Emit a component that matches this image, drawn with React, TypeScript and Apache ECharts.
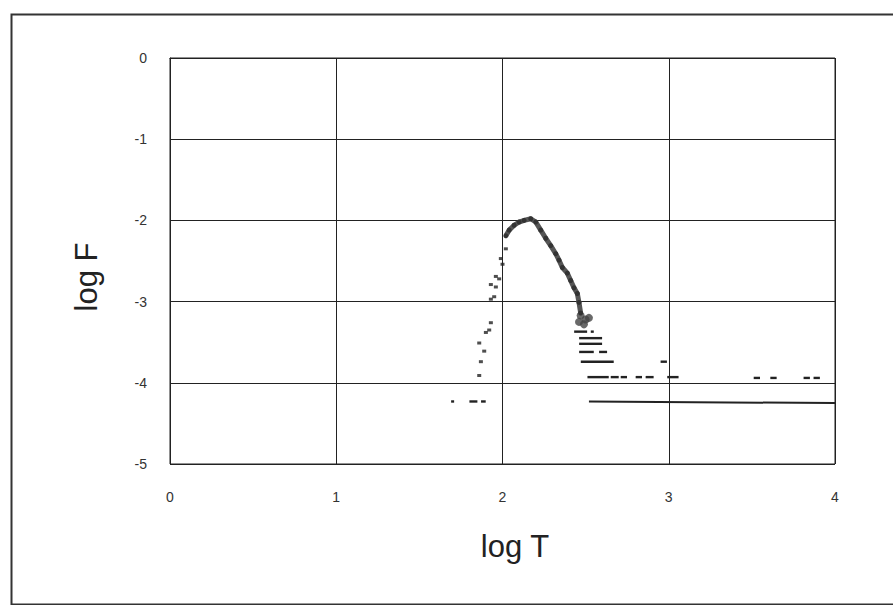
import React, { useEffect, useRef } from "react";
import * as echarts from "echarts";

// Peak of the distribution (thick curve): [logT, logF]
const peakCurve: [number, number][] = [
  [2.02, -2.19], [2.04, -2.12], [2.07, -2.06], [2.10, -2.02], [2.13, -2.0],
  [2.17, -1.98], [2.20, -2.02], [2.23, -2.12], [2.26, -2.22], [2.29, -2.31],
  [2.32, -2.41], [2.34, -2.49], [2.36, -2.58], [2.39, -2.65], [2.41, -2.74],
  [2.43, -2.83], [2.45, -2.90], [2.46, -3.01], [2.47, -3.14],
];

// Dark blob at the lower end of the falling branch
const blobPoints: [number, number][] = [
  [2.47, -3.17], [2.50, -3.22], [2.46, -3.25], [2.52, -3.20], [2.49, -3.28],
];

// Rising branch dots: [logT, logF]
const leftBranch: [number, number][] = [
  [2.02, -2.35], [1.99, -2.47], [2.0, -2.54], [1.96, -2.69], [1.98, -2.72],
  [1.93, -2.79], [1.96, -2.82], [1.95, -2.94], [1.93, -2.97], [1.93, -3.26],
  [1.92, -3.35], [1.90, -3.38], [1.86, -3.51], [1.89, -3.61], [1.87, -3.74],
  [1.86, -3.91],
];

// Horizontal dashes: [logT start, logT end, logF]
const dashes: [number, number, number][] = [
  [1.70, 1.70, -4.23], [1.81, 1.84, -4.23], [1.88, 1.89, -4.23],
  [2.44, 2.50, -3.37], [2.54, 2.54, -3.37],
  [2.47, 2.59, -3.45],
  [2.47, 2.59, -3.52],
  [2.47, 2.54, -3.62], [2.59, 2.62, -3.62],
  [2.48, 2.66, -3.74], [2.96, 2.98, -3.74],
  [2.52, 2.63, -3.93], [2.66, 2.69, -3.93], [2.72, 2.74, -3.93],
  [2.81, 2.83, -3.93], [2.87, 2.90, -3.93], [3.0, 3.05, -3.93],
  [3.52, 3.54, -3.94], [3.62, 3.64, -3.94], [3.82, 3.84, -3.94], [3.88, 3.90, -3.94],
];

// Long flat tail at the bottom
const tailLine: [number, number][] = [
  [2.52, -4.23], [4.0, -4.25],
];

const xTicks = [0, 1, 2, 3, 4];
const yTicks = [-5, -4, -3, -2, -1, 0];

export default function App() {
  const ref = useRef<HTMLDivElement>(null);
  useEffect(() => {
    if (!ref.current) return;
    const chart = echarts.init(ref.current, null, { renderer: "svg" });
    const font = "'Liberation Sans', Arial, sans-serif";
    chart.setOption({
      animation: false,
      backgroundColor: "#ffffff",
      grid: {
        left: 170,
        right: 58,
        top: 58,
        bottom: 141,
        show: true,
        borderColor: "#222",
        borderWidth: 1,
      },
      xAxis: {
        type: "value",
        min: xTicks[0],
        max: xTicks[xTicks.length - 1],
        interval: 1,
        axisLine: { show: true, lineStyle: { color: "#222", width: 1 } },
        axisTick: { show: false },
        splitLine: { show: true, lineStyle: { color: "#222", width: 1 } },
        axisLabel: {
          margin: 26,
          fontSize: 14,
          color: "#333",
          fontFamily: font,
        },
      },
      yAxis: {
        type: "value",
        min: yTicks[0],
        max: yTicks[yTicks.length - 1],
        interval: 1,
        axisLine: { show: true, lineStyle: { color: "#222", width: 1 } },
        axisTick: { show: false },
        splitLine: { show: true, lineStyle: { color: "#222", width: 1 } },
        axisLabel: {
          margin: 23,
          fontSize: 14,
          color: "#333",
          fontFamily: font,
        },
      },
      graphic: [
        {
          type: "rect",
          left: 9,
          top: 12,
          shape: { width: 900, height: 590 },
          style: { fill: "none", stroke: "#333", lineWidth: 2 },
          silent: true,
        },
        {
          type: "text",
          x: 515,
          y: 546,
          style: {
            text: "log T",
            font: `31px ${font}`,
            fill: "#222",
            textAlign: "center",
            textVerticalAlign: "middle",
          },
        },
        {
          type: "text",
          x: 86,
          y: 277,
          rotation: Math.PI / 2,
          style: {
            text: "log F",
            font: `31px ${font}`,
            fill: "#222",
            textAlign: "center",
            textVerticalAlign: "middle",
          },
        },
      ],
      series: [
        {
          type: "line",
          data: tailLine,
          symbol: "none",
          lineStyle: { color: "#222", width: 2 },
          silent: true,
        },
        {
          type: "custom",
          data: dashes,
          encode: { x: [0, 1], y: 2 },
          renderItem: (params: any, api: any) => {
            const p1 = api.coord([api.value(0), api.value(2)]);
            const p2 = api.coord([api.value(1), api.value(2)]);
            return {
              type: "rect",
              shape: {
                x: p1[0] - 1.5,
                y: p1[1] - 1.2,
                width: Math.max(p2[0] - p1[0] + 3, 3),
                height: 2.4,
              },
              style: { fill: "#222" },
            };
          },
          silent: true,
        },
        {
          type: "scatter",
          data: leftBranch,
          symbol: "rect",
          symbolSize: [4, 3],
          itemStyle: { color: "#222" },
          silent: true,
        },
        {
          type: "line",
          data: peakCurve,
          symbol: "circle",
          symbolSize: 5,
          showSymbol: true,
          itemStyle: { color: "#333" },
          lineStyle: { color: "#555", width: 5 },
          silent: true,
        },
        {
          type: "scatter",
          data: blobPoints,
          symbol: "circle",
          symbolSize: 8,
          itemStyle: { color: "#444" },
          silent: true,
        },
      ],
    });
    return () => chart.dispose();
  }, []);
  return (
    <div
      ref={ref}
      style={{ position: "fixed", left: 0, top: 0, width: 893, height: 605 }}
    />
  );
}
